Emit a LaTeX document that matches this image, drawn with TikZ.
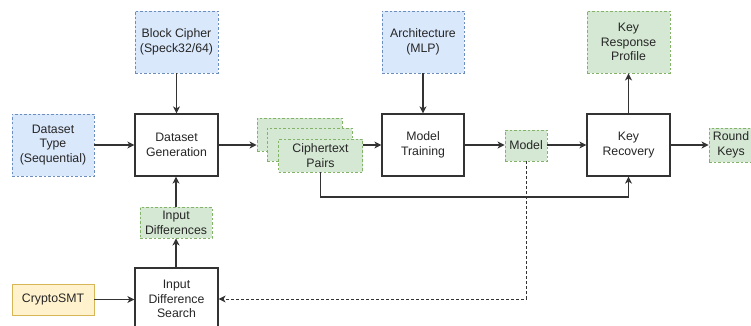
\documentclass[tikz,border=0pt]{standalone}
\usepackage{fontspec}
\setmainfont{Liberation Sans}
\usetikzlibrary{arrows.meta}
\definecolor{bluefill}{HTML}{DAE8FC}
\definecolor{blueline}{HTML}{6C8EBF}
\definecolor{greenfill}{HTML}{D5E8D4}
\definecolor{greenline}{HTML}{82B366}
\definecolor{yelfill}{HTML}{FFF2CC}
\definecolor{yelline}{HTML}{D6B656}
\definecolor{txt}{HTML}{262626}
\definecolor{wire}{HTML}{333333}
\tikzset{
  base/.style={rectangle, align=center, inner sep=1pt, text=txt,
    font=\fontsize{12.3}{14.8}\selectfont},
  proc/.style={base, draw=wire, line width=1.2pt, fill=white},
  inbox/.style={base, draw=blueline, fill=bluefill, line width=0.9pt, dash pattern=on 2.5pt off 2pt},
  outbox/.style={base, draw=greenline, fill=greenfill, line width=0.9pt, dash pattern=on 2.5pt off 2pt},
  toolbox/.style={base, draw=yelline, fill=yelfill, line width=0.9pt},
  conn/.style={draw=wire, line width=1.2pt, -{Stealth[length=7pt,width=7pt,inset=2pt]}},
  dconn/.style={conn, line width=1pt, dash pattern=on 3pt off 2pt},
}
\begin{document}
\begin{tikzpicture}[x=1pt,y=-1pt]
\useasboundingbox (0,0) rectangle (751,326);
\clip (0,0) rectangle (751,326);
% inputs
\node[inbox, minimum width=83pt, minimum height=62pt] (bc) at (176.5,42) {Block Cipher\\(Speck32/64)};
\node[inbox, minimum width=82pt, minimum height=62pt] (dt) at (53,145) {Dataset\\Type\\(Sequential)};
\node[inbox, minimum width=82pt, minimum height=62pt] (arch) at (423,42) {Architecture\\(MLP)};
\node[toolbox, minimum width=82pt, minimum height=31pt] (cs) at (53,299.5) {CryptoSMT};
% processes
\node[proc, minimum width=83pt, minimum height=62pt] (dg) at (176.5,145) {Dataset\\Generation};
\node[proc, minimum width=82pt, minimum height=62pt] (mt) at (423,145) {Model\\Training};
\node[proc, minimum width=83pt, minimum height=62pt] (kr) at (628.5,145) {Key\\Recovery};
\node[proc, minimum width=83pt, minimum height=62pt] (ids) at (176.5,299) {Input\\Difference\\Search};
% outputs
\node[outbox, minimum width=85pt, minimum height=33pt] (cp3) at (299.5,134.5) {};
\node[outbox, minimum width=85pt, minimum height=33pt] (cp2) at (309.5,144.5) {};
\node[outbox, minimum width=84pt, minimum height=33pt] (cp1) at (320.5,155.5) {Ciphertext\\Pairs};
\node[outbox, minimum width=42pt, minimum height=31pt] (model) at (526,145.5) {Model};
\node[outbox, minimum width=83pt, minimum height=62pt] (krp) at (628.5,42) {Key\\Response\\Profile};
\node[outbox, minimum width=44pt, minimum height=34pt] (rk) at (731,145) {Round\\Keys};
\node[outbox, minimum width=72pt, minimum height=31pt] (id) at (176,222.5) {Input\\Differences};
% connectors
\draw[conn] (bc.south) -- (dg.north);
\draw[conn] (dt.east) -- (dg.west);
\draw[conn] (id.north) -- (id.north |- dg.south);
\draw[conn] (ids.north -| id.north) -- (id.south);
\draw[conn] (cs.east) -- (cs.east -| ids.west);
\draw[conn] (dg.east) -- (dg.east -| cp3.west);
\draw[conn] (mt.west -| cp1.east) -- (mt.west);
\draw[conn] (arch.south) -- (mt.north);
\draw[conn] (mt.east) -- (mt.east -| model.west);
\draw[conn] (model.east |- kr.west) -- (kr.west);
\draw[conn] (kr.north) -- (krp.south);
\draw[conn] (kr.east) -- (kr.east -| rk.west);
\coordinate (bend) at (628.5,197);
\draw[conn] (cp1.south) |- (bend) -- (kr.south);
\draw[dconn] (model.south) |- (ids.east);
\end{tikzpicture}
\end{document}
